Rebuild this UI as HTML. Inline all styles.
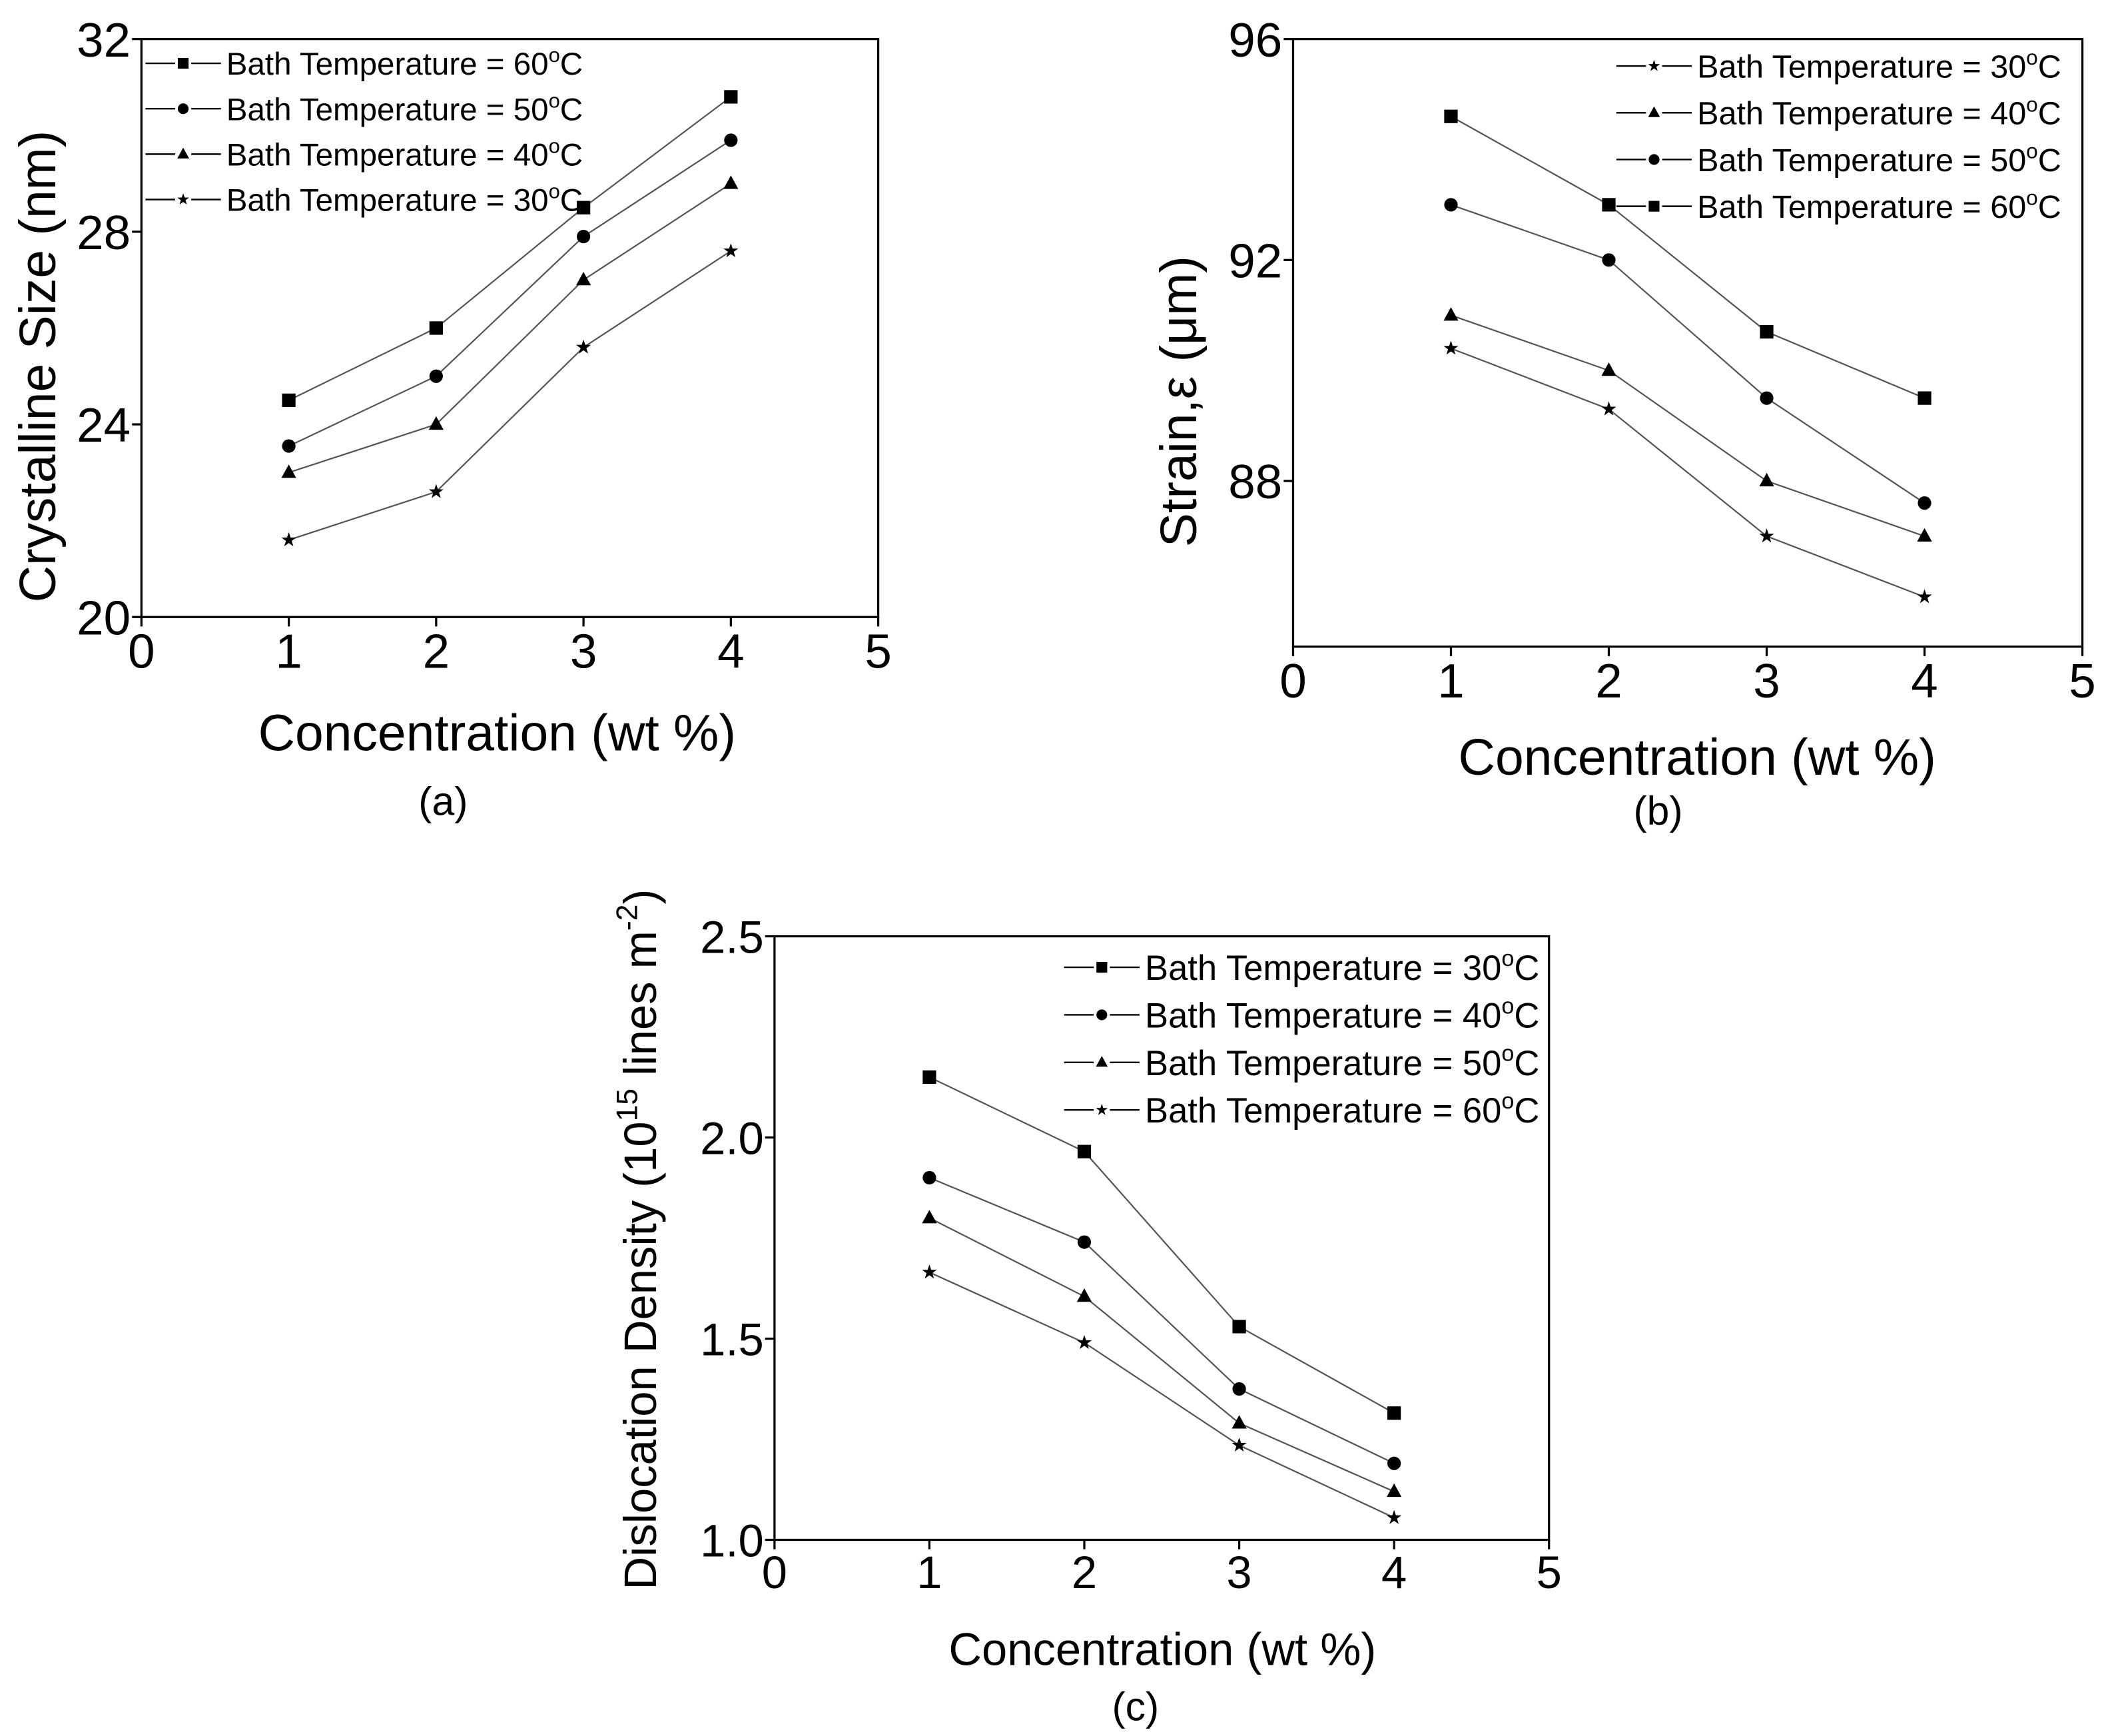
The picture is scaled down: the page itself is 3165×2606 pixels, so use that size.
<!DOCTYPE html>
<html><head><meta charset="utf-8"><style>
html,body{margin:0;padding:0;background:#fff}
svg{display:block}
text{font-family:"Liberation Sans",sans-serif;fill:#000}
</style></head><body>
<svg id="fig" xmlns="http://www.w3.org/2000/svg" width="3165" height="2606" viewBox="0 0 1565 1288.6">
<rect width="1565" height="1289" fill="#fff"/>
</svg>
<script>
// ----- data: chart (a)
const catsA = [1, 2, 3, 4];
const a60 = [24.5, 26.0, 28.5, 30.8];
const a50 = [23.55, 25.0, 27.9, 29.9];
const a40 = [23.0, 24.0, 27.0, 29.0];
const a30 = [21.6, 22.6, 25.6, 27.6];
const xTicksA = [0, 1, 2, 3, 4, 5];
const yTicksA = [20, 24, 28, 32];
// ----- data: chart (b)
const catsB = [1, 2, 3, 4];
const b60 = [94.6, 93.0, 90.7, 89.5];
const b50 = [93.0, 92.0, 89.5, 87.6];
const b40 = [91.0, 90.0, 88.0, 87.0];
const b30 = [90.4, 89.3, 87.0, 85.9];
const xTicksB = [0, 1, 2, 3, 4, 5];
const yTicksB = [88, 92, 96];
// ----- data: chart (c)
const catsC = [1, 2, 3, 4];
const c30 = [2.15, 1.965, 1.53, 1.315];
const c40 = [1.9, 1.74, 1.375, 1.19];
const c50 = [1.8, 1.605, 1.29, 1.12];
const c60 = [1.665, 1.49, 1.235, 1.055];
const xTicksC = [0, 1, 2, 3, 4, 5];
const yTicksC = ['1.0', '1.5', '2.0', '2.5'];

const NS = 'http://www.w3.org/2000/svg';
const svg = document.getElementById('fig');
function mk(tag, attrs, parent) {
  const e = document.createElementNS(NS, tag);
  for (const k in attrs) e.setAttribute(k, attrs[k]);
  (parent || svg).appendChild(e);
  return e;
}
function marker(g, type, x, y, s) {
  let e;
  if (type === 'square') e = mk('rect', {x: x - s, y: y - s, width: 2 * s, height: 2 * s, fill: '#000'}, g);
  else if (type === 'circle') e = mk('circle', {cx: x, cy: y, r: s, fill: '#000'}, g);
  else if (type === 'triangle') e = mk('polygon', {points: `${x},${y - s * 1.2} ${x - s * 1.1},${y + s * 0.8} ${x + s * 1.1},${y + s * 0.8}`, fill: '#000'}, g);
  else {
    let p = [];
    for (let i = 0; i < 10; i++) {
      const r = i % 2 ? s * 0.45 : s * 1.15, a = -Math.PI / 2 + i * Math.PI / 5;
      p.push((x + r * Math.cos(a)).toFixed(2) + ',' + (y + r * Math.sin(a)).toFixed(2));
    }
    e = mk('polygon', {points: p.join(' '), fill: '#000'}, g);
  }
  return e;
}
function chart(o) {
  const g = mk('g', {});
  
  
  const X = v => o.L + (v - o.xmin) / (o.xmax - o.xmin) * (o.R - o.L);
  const Y = v => o.B - (v - o.ymin) / (o.ymax - o.ymin) * (o.B - o.T);
  const frame = mk('rect', {x: o.L, y: o.T, width: o.R - o.L, height: o.B - o.T, fill: 'none', stroke: '#000', 'stroke-width': 1.6}, g);
  
  
  o.xt.forEach(v => {
    mk('line', {x1: X(v), x2: X(v), y1: o.B, y2: o.B + 7, stroke: '#000', 'stroke-width': 1.6}, g);
    const t = mk('text', {x: X(v), y: o.B + 7 + o.tf * 0.85, 'font-size': o.tf, 'text-anchor': 'middle'}, g);
    t.textContent = v;
    
    
  });
  o.yt.forEach(v => {
    const vv = parseFloat(v);
    mk('line', {x1: o.L - 7, x2: o.L, y1: Y(vv), y2: Y(vv), stroke: '#000', 'stroke-width': 1.6}, g);
    const t = mk('text', {x: o.L - 8, y: Y(vv) + o.tf * 0.36, 'font-size': o.tf, 'text-anchor': 'end'}, g);
    t.textContent = v;
    
    
  });
  o.series.forEach(s => {
    const sg = mk('g', {}, g);
    
    
    const pts = o.cats.map((c, i) => X(c).toFixed(2) + ',' + Y(s.v[i]).toFixed(2)).join(' ');
    mk('polyline', {points: pts, fill: 'none', stroke: '#555', 'stroke-width': 1.1}, sg);
    o.cats.forEach((c, i) => {
      const m = marker(sg, s.m, X(c), Y(s.v[i]), 5);
      
      
    });
  });
  o.series.slice().sort((a, b) => a.li - b.li).forEach((s, i) => {
    const y = o.ly + i * o.lstep;
    const lg = mk('g', {}, g);
    
    
    mk('line', {x1: o.lx, x2: o.lx + 22, y1: y, y2: y, stroke: '#000', 'stroke-width': 1.2}, lg);
    mk('line', {x1: o.lx + 34, x2: o.lx + 56, y1: y, y2: y, stroke: '#000', 'stroke-width': 1.2}, lg);
    marker(lg, s.m, o.lx + 28, y, 4);
    const t = mk('text', {x: o.lx + 60, y: y + o.lf * 0.36, 'font-size': o.lf}, lg);
    t.innerHTML = 'Bath Temperature = ' + s.t + '<tspan dy="-' + (o.lf * 0.4) + '" font-size="' + (o.lf * 0.65) + '">o</tspan><tspan dy="' + (o.lf * 0.4) + '">C</tspan>';
  });
  const xl = mk('text', {x: o.xlx, y: o.xly, 'font-size': o.af, 'text-anchor': 'middle'}, g);
  xl.textContent = 'Concentration (wt %)';
  
  
  const yl = mk('text', {x: 0, y: 0, 'font-size': o.yf, 'text-anchor': 'middle', transform: `translate(${o.ylx},${o.yly}) rotate(-90)`}, g);
  yl.innerHTML = o.ytitle;
  
  
  const cap = mk('text', {x: o.capx, y: o.capy, 'font-size': 30, 'text-anchor': 'middle'}, g);
  cap.textContent = o.cap;
  
  
}
chart({name: 'chart-a-crystalline-size', L: 105, R: 652, T: 29, B: 458, xmin: 0, xmax: 5, ymin: 20, ymax: 32,
  xt: xTicksA, yt: yTicksA, cats: catsA, tf: 36, af: 38, yf: 38, lf: 23.5,
  series: [{name: 'series-60C', v: a60, m: 'square', t: '60', li: 0}, {name: 'series-50C', v: a50, m: 'circle', t: '50', li: 1},
           {name: 'series-40C', v: a40, m: 'triangle', t: '40', li: 2}, {name: 'series-30C', v: a30, m: 'star', t: '30', li: 3}],
  lx: 108, ly: 47, lstep: 33.7, xlx: 369, xly: 557, ylx: 41, yly: 272, ytitle: 'Crystalline Size (nm)', cap: '(a)', capx: 329, capy: 605});
chart({name: 'chart-b-strain', L: 960, R: 1546, T: 29, B: 480, xmin: 0, xmax: 5, ymin: 85, ymax: 96,
  xt: xTicksB, yt: yTicksB, cats: catsB, tf: 36, af: 38, yf: 38, lf: 24,
  series: [{name: 'series-30C', v: b30, m: 'star', t: '30', li: 0}, {name: 'series-40C', v: b40, m: 'triangle', t: '40', li: 1},
           {name: 'series-50C', v: b50, m: 'circle', t: '50', li: 2}, {name: 'series-60C', v: b60, m: 'square', t: '60', li: 3}],
  lx: 1200, ly: 49, lstep: 34.7, xlx: 1260, xly: 575, ylx: 888, yly: 298, ytitle: 'Strain,&#949; (&#956;m)', cap: '(b)', capx: 1231, capy: 612});
chart({name: 'chart-c-dislocation-density', L: 575, R: 1150, T: 695, B: 1143, xmin: 0, xmax: 5, ymin: 1.0, ymax: 2.5,
  xt: xTicksC, yt: yTicksC, cats: catsC, tf: 34, af: 34, yf: 34, lf: 26,
  series: [{name: 'series-30C', v: c30, m: 'square', t: '30', li: 0}, {name: 'series-40C', v: c40, m: 'circle', t: '40', li: 1},
           {name: 'series-50C', v: c50, m: 'triangle', t: '50', li: 2}, {name: 'series-60C', v: c60, m: 'star', t: '60', li: 3}],
  lx: 790, ly: 718, lstep: 35.3, xlx: 863, xly: 1236, ylx: 487, yly: 920,
  ytitle: 'Dislocation Density (10<tspan dy="-14" font-size="22">15</tspan><tspan dy="14"> lines m</tspan><tspan dy="-14" font-size="22">-2</tspan><tspan dy="14">)</tspan>',
  cap: '(c)', capx: 843, capy: 1277});
</script>
</body></html>
